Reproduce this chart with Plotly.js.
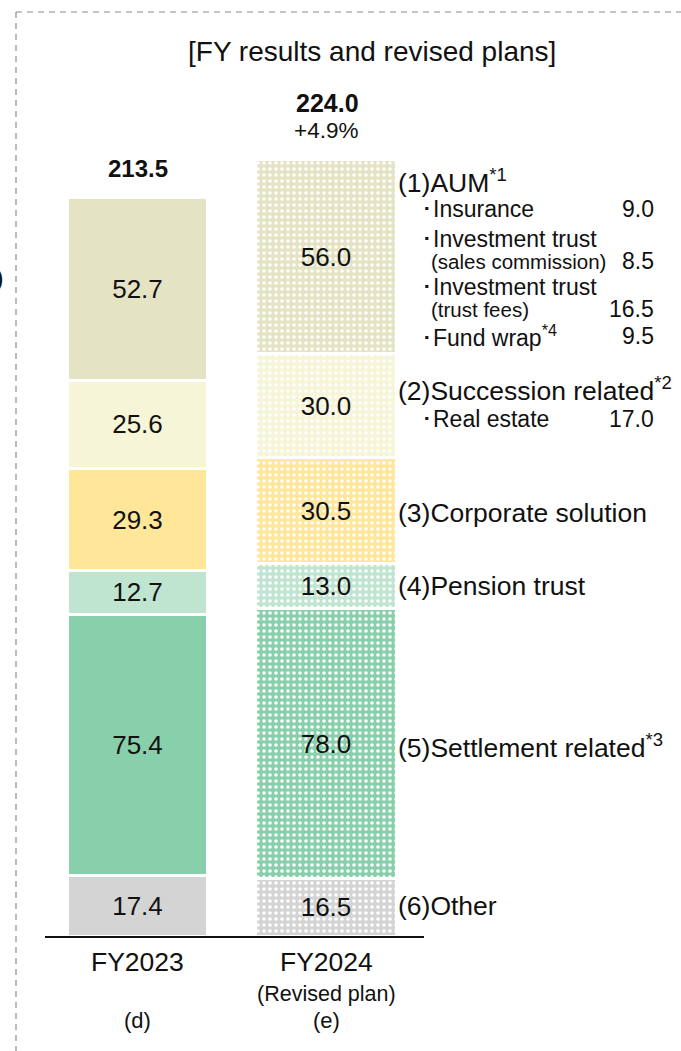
<!DOCTYPE html>
<html>
<head>
<meta charset="utf-8">
<script src="https://cdn.plot.ly/plotly-3.0.1.min.js"></script>
<style>html,body{margin:0;padding:0;background:#fff;}#chart{width:681px;height:1051px;}</style>
</head>
<body>
<div id="chart"></div>
<script>
// ---- data ----
const categories = ['FY2023', 'FY2024'];
const categorySub = ['', '(Revised plan)'];
const categoryCode = ['(d)', '(e)'];
const segments = ['(6)Other', '(5)Settlement related', '(4)Pension trust', '(3)Corporate solution', '(2)Succession related', '(1)AUM'];
const segmentSup = ['', '*3', '', '', '*2', '*1'];
const fy2023 = [17.4, 75.4, 12.7, 29.3, 25.6, 52.7];
const fy2024 = [16.5, 78.0, 13.0, 30.5, 30.0, 56.0];
const totals = [213.5, 224.0];
const growth = '+4.9%';
const aumItems = ['Insurance', 'Investment trust', 'Investment trust', 'Fund wrap'];
const aumItemNotes = ['', '(sales commission)', '(trust fees)', ''];
const aumItemSup = ['', '', '', '*4'];
const aumValues = [9.0, 8.5, 16.5, 9.5];
const successionItems = ['Real estate'];
const successionValues = [17.0];
const chartTitle = '[FY results and revised plans]';

// ---- styles ----
const colors = ['#D4D4D4', '#88D0AB', '#BFE5D0', '#FFE699', '#F6F5D7', '#E4E3C4'];
const FONT = 'Arial, "Liberation Sans", sans-serif';

// pixel geometry helpers
const L = 45, R = 424, T = 100, B = 936, W = 681, H = 1051;
const px = x => (x - L) / (R - L);
const py = y => (B - y) / (B - T);
const unitPx = 188.5;
const xmin = (L - 137.5) / unitPx, xmax = (R - 137.5) / unitPx;
const yTop = (B - T) / 3.466;

const traces = [];
segments.forEach((s, i) => {
  traces.push({
    type: 'bar', x: [0], y: [fy2023[i]], width: 0.743, name: s,
    text: [fy2023[i].toFixed(1)], textposition: 'inside', insidetextanchor: 'middle',
    constraintext: 'none', textangle: 0,
    textfont: {family: FONT, size: 26, color: '#111'},
    marker: {color: colors[i], line: {color: '#ffffff', width: 3}},
    hoverinfo: 'skip'
  });
  traces.push({
    type: 'bar', x: [1], y: [fy2024[i]], width: 0.743, name: s,
    text: [fy2024[i].toFixed(1)], textposition: 'inside', insidetextanchor: 'middle',
    constraintext: 'none', textangle: 0,
    textfont: {family: FONT, size: 26, color: '#111'},
    marker: {color: colors[i], line: {color: '#ffffff', width: 3},
      pattern: {shape: '.', bgcolor: colors[i], fgcolor: '#ffffff', size: 6, solidity: 0.28, fillmode: 'replace'}},
    hoverinfo: 'skip'
  });
});

const ann = [];
function A(text, x, y, size, anchor, extra) {
  ann.push(Object.assign({
    text: text, xref: 'paper', yref: 'paper', x: px(x), y: py(y),
    xanchor: anchor || 'center', yanchor: 'middle', showarrow: false,
    font: {family: FONT, size: size, color: '#111'}
  }, extra || {}));
}
// title
A(chartTitle, 372, 52, 28);
// totals
A('<b>' + totals[0].toFixed(1) + '</b>', 137.5, 168, 24);
A('<b>' + totals[1].toFixed(1) + '</b>', 327, 103, 25);
A(growth, 326, 130, 22.5);
// stray ')' on left edge
A(')', 6, 278, 26, 'right');
// category labels
A(categories[0], 137.5, 962, 26.5);
A(categories[1], 326, 962, 26.5);
A(categorySub[1], 326, 994, 21.5);
A(categoryCode[0], 137.5, 1020, 22);
A(categoryCode[1], 326, 1020, 22);

// right-side labels
const segY = [906, 746, 586, 513, 389, 181];
segments.forEach((s, i) => {
  const t = s + (segmentSup[i] ? '<sup>' + segmentSup[i] + '</sup>' : '');
  A(t, 396, segY[i], 26.5, 'left');
});
const aumY = [209, 239, 287, 336];
const aumNoteY = [0, 261, 309, 0];
const aumValY = [209, 261, 309, 336];
aumItems.forEach((it, i) => {
  A('･' + it + (aumItemSup[i] ? '<sup>' + aumItemSup[i] + '</sup>' : ''), 419, aumY[i], 23, 'left');
  if (aumItemNotes[i]) A(aumItemNotes[i], 429, aumNoteY[i], 20.5, 'left');
  A(aumValues[i].toFixed(1), 656, aumValY[i], 23, 'right');
});
successionItems.forEach((it, i) => {
  A('･' + it, 419, 419, 23, 'left');
  A(successionValues[i].toFixed(1), 656, 419, 23, 'right');
});

const shapes = [
  {type: 'line', xref: 'paper', yref: 'paper', x0: px(16), x1: px(700), y0: py(12), y1: py(12),
   line: {color: '#8c8c8c', width: 1.2, dash: '6px,5px'}},
  {type: 'line', xref: 'paper', yref: 'paper', x0: px(16), x1: px(16), y0: py(12), y1: py(1060),
   line: {color: '#8c8c8c', width: 1.2, dash: '6px,5px'}}
];

const layout = {
  width: W, height: H,
  margin: {l: L, r: W - R, t: T, b: H - B, pad: 0},
  barmode: 'stack',
  showlegend: false,
  paper_bgcolor: '#ffffff',
  plot_bgcolor: '#ffffff',
  xaxis: {range: [xmin, xmax], showgrid: false, zeroline: false, showticklabels: false, ticks: '',
          showline: true, linecolor: '#111', linewidth: 2, fixedrange: true},
  yaxis: {range: [0, yTop], showgrid: false, zeroline: false, showticklabels: false, ticks: '',
          showline: false, fixedrange: true},
  annotations: ann,
  shapes: shapes,
  font: {family: FONT}
};

Plotly.newPlot('chart', traces, layout, {staticPlot: true, displayModeBar: false});
</script>
</body>
</html>
